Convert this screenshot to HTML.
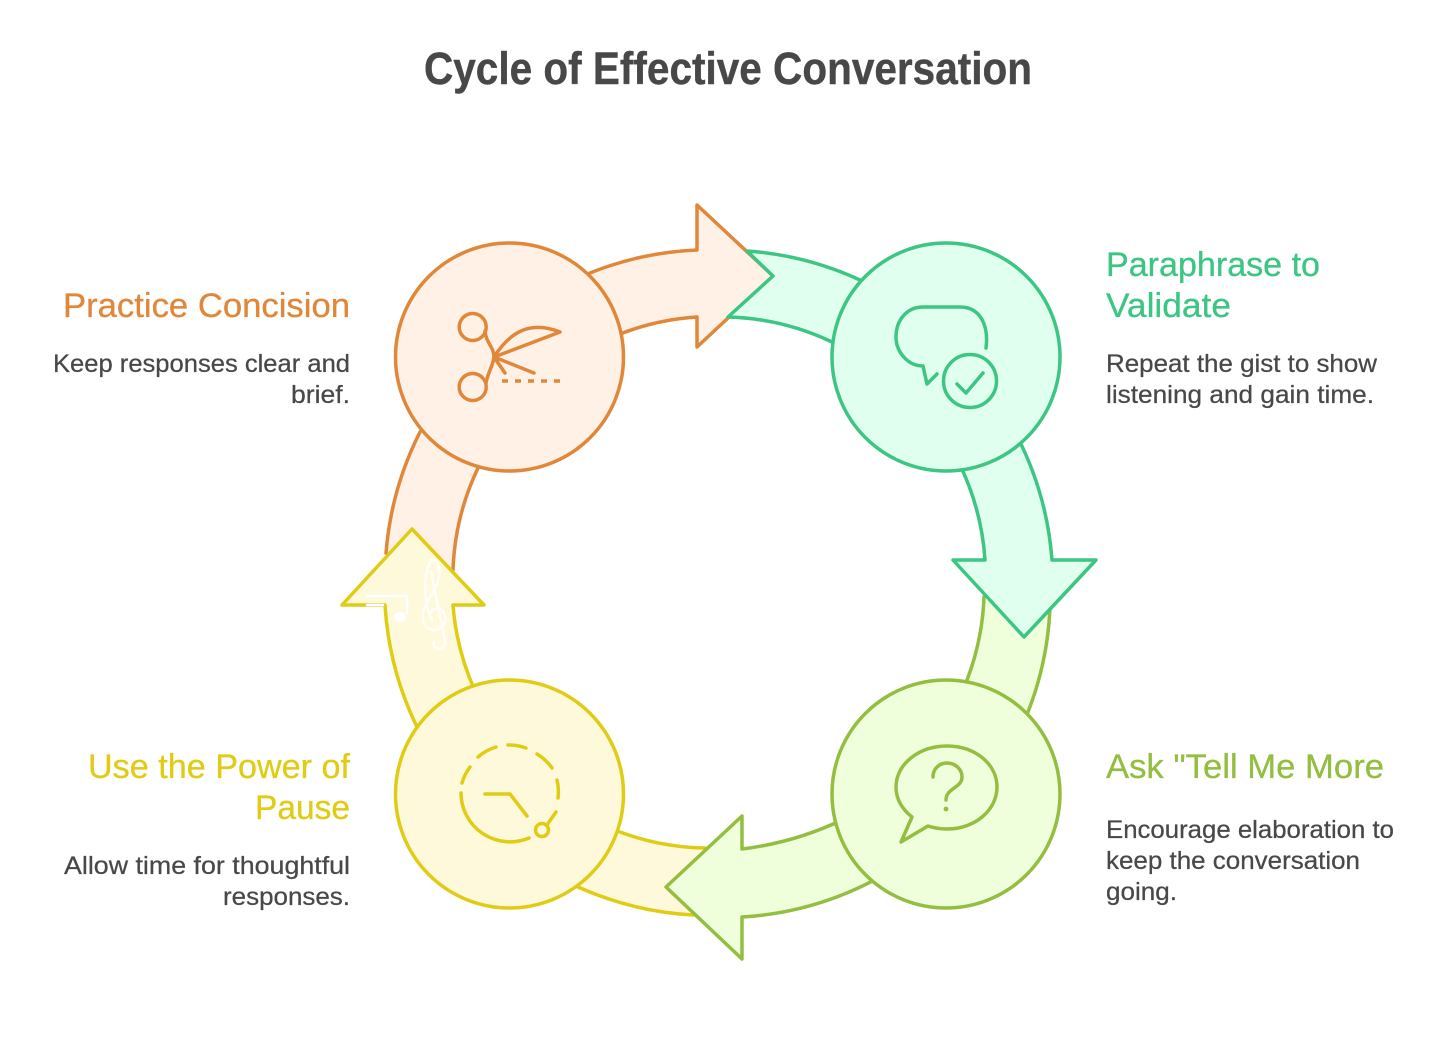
<!DOCTYPE html>
<html>
<head>
<meta charset="utf-8">
<style>
html,body{margin:0;padding:0;background:#fff;width:1456px;height:1048px;overflow:hidden}
svg{display:block}
text{font-family:"Liberation Sans",sans-serif;stroke-linecap:butt}
.d{font-size:25px;fill:#484848;stroke:#484848;stroke-width:.25px}
.h{font-size:34px;stroke-width:.3px}
.o{fill:#E0873A;stroke:#E0873A}
.g{fill:#3CC583;stroke:#3CC583}
.l{fill:#93BE40;stroke:#93BE40}
.y{fill:#E0CB15;stroke:#E0CB15}
</style>
</head>
<body>
<svg width="1456" height="1048" viewBox="0 0 1456 1048" xmlns="http://www.w3.org/2000/svg" stroke-linejoin="round" stroke-linecap="round">
<text x="424" y="84" font-size="45" font-weight="700" fill="#484848" stroke="#484848" stroke-width=".4" textLength="608" lengthAdjust="spacingAndGlyphs">Cycle of Effective Conversation</text>

<!-- incoming tails -->
<path d="M984 590A325 325 0 0 1 967 680L1028 712A325 325 0 0 0 1052 600Z" fill="#EFFFDB"/>
<path d="M984 597A258 258 0 0 1 967 680M1050 608A325 325 0 0 1 1028 712" fill="none" stroke="#93BE40" stroke-width="3.5"/>
<path d="M620 832A258 258 0 0 0 710 849L695 916A325 325 0 0 1 578 887Z" fill="#FFF9DB"/>
<path d="M620 832A258 258 0 0 0 705 848M578 887A325 325 0 0 0 693 915" fill="none" stroke="#E0CB15" stroke-width="3.5"/>
<path d="M420 432A325 325 0 0 0 386 553L453 570A258 258 0 0 1 478 468Z" fill="#FFF1E5"/>
<path d="M420 432A325 325 0 0 0 386 553M478 468A258 258 0 0 0 453 570" fill="none" stroke="#E0873A" stroke-width="3.5"/>

<!-- orange -->
<path d="M585 275A325 325 0 0 1 697 250L697 205L773 276L697 347L697 317A258 258 0 0 0 615 336Z" fill="#FFF1E5" stroke="#E0873A" stroke-width="3.5"/>
<circle cx="509.5" cy="357" r="114" fill="#FFF1E5" stroke="#E0873A" stroke-width="3.5"/>
<g fill="none" stroke="#E0873A" stroke-width="3.5">
<circle cx="472.7" cy="327" r="13.5"/>
<circle cx="472.7" cy="387" r="13.5"/>
<path d="M485 331C486 343 494 347 494 357C493 366 488 372 486 383"/>
<path d="M494 357C510 332 530 320 560 332ZM494 357L534 373M494 357L505 373"/>
<path d="M502 381H561" stroke-dasharray="6 7" stroke-linecap="butt"/>
</g>

<!-- green -->
<path d="M1018 438A325 325 0 0 1 1052 560L1096 560L1024 637L953 560L985 560A258 258 0 0 0 960 465Z" fill="#E0FFEF" stroke="#3CC583" stroke-width="3.5"/>
<path d="M747 251A325 325 0 0 1 860 280L832 342A258 258 0 0 0 728 317L773 276Z" fill="#E0FFEF"/>
<path d="M860 280A325 325 0 0 0 747 251L773 276L728 317A258 258 0 0 1 832 342" fill="none" stroke="#3CC583" stroke-width="3.5"/>
<circle cx="946" cy="357" r="114" fill="#E0FFEF" stroke="#3CC583" stroke-width="3.5"/>
<g fill="none" stroke="#3CC583" stroke-width="3.5">
<path d="M986 348C989 325 980 307 960 307H923C907 307 896 320 896 337C896 352 908 366 923 366L927 384L937 374"/>
<circle cx="970" cy="381" r="26.5"/>
<path d="M957 384L966 393L983 373"/>
</g>

<!-- lime -->
<path d="M842 820A325 325 0 0 1 742 849L742 816L666 887L742 959L742 917A325 325 0 0 0 880 877Z" fill="#EFFFDB" stroke="#93BE40" stroke-width="3.5"/>
<circle cx="946" cy="794" r="114" fill="#EFFFDB" stroke="#93BE40" stroke-width="3.5"/>
<g fill="none" stroke="#93BE40" stroke-width="3.5">
<path d="M912 817C902 809 896 799 896 787C896 764 919 746 947 746C975 746 997 764 997 787C997 810 975 829 947 829C940 829 934 828 928 826L901 842Z"/>
<path d="M933 777C933 769 939 763 947 763C955 763 962 769 962 777C962 788 946 788 946 800"/>
</g>
<circle cx="946" cy="809" r="2.4" fill="#93BE40"/>

<!-- yellow -->
<path d="M421 735A325 325 0 0 1 385 605L342 605L412 529L484 605L453 605A258 258 0 0 0 475 691Z" fill="#FFF9DB" stroke="#E0CB15" stroke-width="3.5"/>
<circle cx="509.5" cy="794" r="114" fill="#FFF9DB" stroke="#E0CB15" stroke-width="3.5"/>
<g fill="none" stroke="#E0CB15" stroke-width="3.5">
<path d="M462 783A49 49 0 0 1 470 767M478 757A49 49 0 0 1 496 747M508 745A49 49 0 0 1 526 748M537 754A49 49 0 0 1 552 768M557 780A49 49 0 0 1 558 798M547 825L556 812"/>
<path d="M461 793A49 49 0 0 0 529 838"/>
<path d="M485 794H510L527 816"/>
<circle cx="542" cy="830" r="6.5"/>
</g>

<!-- faint white music notes -->
<g fill="none" stroke="#fff" stroke-width="2.5">
<path d="M367 596H407V613M367 605H383"/>
<ellipse cx="400" cy="617" rx="5" ry="3.5" fill="#fff"/>
<path d="M432 620C422 600 424 570 431 561C438 556 441 570 438 582C432 596 421 606 423 620C425 632 440 634 445 622C447 610 436 604 431 612M431 572L445 640C446 652 432 652 434 642" opacity=".85"/>
</g>

<!-- labels -->
<text class="h o" x="63" y="317" textLength="287" lengthAdjust="spacingAndGlyphs">Practice Concision</text>
<text class="d" x="53" y="372" textLength="297" lengthAdjust="spacingAndGlyphs">Keep responses clear and</text>
<text class="d" x="291" y="403" textLength="59" lengthAdjust="spacingAndGlyphs">brief.</text>

<text class="h g" x="1106" y="276" textLength="214" lengthAdjust="spacingAndGlyphs">Paraphrase to</text>
<text class="h g" x="1106" y="317" textLength="125" lengthAdjust="spacingAndGlyphs">Validate</text>
<text class="d" x="1106" y="372" textLength="271" lengthAdjust="spacingAndGlyphs">Repeat the gist to show</text>
<text class="d" x="1106" y="403" textLength="268" lengthAdjust="spacingAndGlyphs">listening and gain time.</text>

<text class="h l" x="1106" y="778" textLength="278" lengthAdjust="spacingAndGlyphs">Ask "Tell Me More</text>
<text class="d" x="1106" y="838" textLength="288" lengthAdjust="spacingAndGlyphs">Encourage elaboration to</text>
<text class="d" x="1106" y="869" textLength="254" lengthAdjust="spacingAndGlyphs">keep the conversation</text>
<text class="d" x="1106" y="900" textLength="71" lengthAdjust="spacingAndGlyphs">going.</text>

<text class="h y" x="88" y="778" textLength="262" lengthAdjust="spacingAndGlyphs">Use the Power of</text>
<text class="h y" x="255" y="819" textLength="95" lengthAdjust="spacingAndGlyphs">Pause</text>
<text class="d" x="64" y="874" textLength="286" lengthAdjust="spacingAndGlyphs">Allow time for thoughtful</text>
<text class="d" x="223" y="905" textLength="127" lengthAdjust="spacingAndGlyphs">responses.</text>
</svg>
</body>
</html>
